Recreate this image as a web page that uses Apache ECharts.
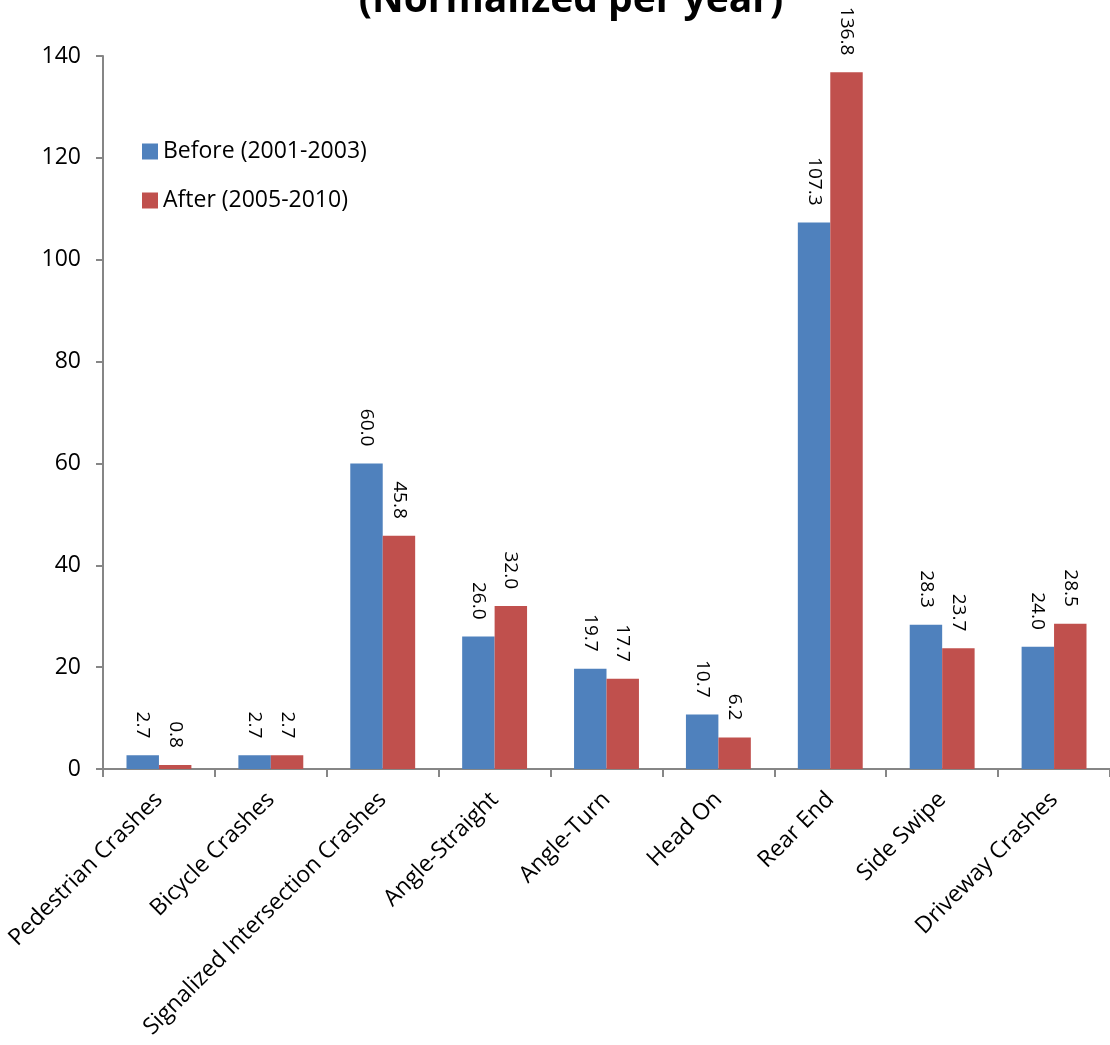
<!DOCTYPE html>
<html>
<head>
<meta charset="utf-8">
<title>Crashes (Normalized per year)</title>
<script src="https://cdn.jsdelivr.net/npm/echarts@6/dist/echarts.min.js"></script>
<style>
  html, body { margin: 0; padding: 0; background: #fff; }
  #eChart { width: 1110px; height: 1045px; }
</style>
</head>
<body>
<div id="eChart"></div>
<script>
// data
var categories = ['Pedestrian Crashes', 'Bicycle Crashes', 'Signalized Intersection Crashes',
    'Angle-Straight', 'Angle-Turn', 'Head On', 'Rear End', 'Side Swipe', 'Driveway Crashes'];
var beforeName = 'Before (2001-2003)';
var afterName = 'After (2005-2010)';
var beforeValues = [2.7, 2.7, 60.0, 26.0, 19.7, 10.7, 107.3, 28.3, 24.0];
var afterValues = [0.8, 2.7, 45.8, 32.0, 17.7, 6.2, 136.8, 23.7, 28.5];
var yTicks = [0, 20, 40, 60, 80, 100, 120, 140];

var FONT = 'Open Sans';

function valueLabel() {
    return {
        show: true,
        position: 'top',
        distance: 17,
        rotate: -90,
        align: 'right',
        verticalAlign: 'middle',
        fontFamily: FONT,
        fontSize: 19,
        color: '#000',
        formatter: function (p) { return p.value.toFixed(1); }
    };
}

var option = {
    animation: false,
    textStyle: { fontFamily: FONT },
    title: {
        text: '(Normalized per year)',
        left: 566,
        textAlign: 'center',
        top: -24,
        textStyle: { fontFamily: FONT, fontSize: 39, fontWeight: 'bold', color: '#000' }
    },
    legend: {
        orient: 'vertical',
        left: 142,
        top: 140,
        padding: 0,
        itemWidth: 16,
        itemHeight: 16,
        itemGap: 26,
        icon: 'rect',
        textStyle: { fontFamily: FONT, fontSize: 23, color: '#000' },
        data: [beforeName, afterName]
    },
    grid: {
        left: 103,
        right: -2,
        top: 56,
        bottom: 276,
        containLabel: false
    },
    xAxis: [
        {
            type: 'category',
            data: categories,
            axisLine: { lineStyle: { color: '#868686', width: 2 } },
            axisTick: { show: true, length: 8, lineStyle: { color: '#868686', width: 2 } },
            axisLabel: {
                rotate: 45,
                interval: 0,
                margin: 27,
                fontFamily: FONT,
                fontSize: 23,
                color: '#000'
            }
        }
    ],
    yAxis: [
        {
            type: 'value',
            min: yTicks[0],
            max: yTicks[yTicks.length - 1],
            interval: 20,
            axisLine: { show: true, lineStyle: { color: '#868686', width: 2 } },
            axisTick: { show: true, length: 7, lineStyle: { color: '#868686', width: 2 } },
            splitLine: { show: false },
            axisLabel: {
                margin: 22,
                fontFamily: FONT,
                fontSize: 23,
                color: '#000'
            }
        }
    ],
    series: [
        {
            name: beforeName,
            type: 'bar',
            barGap: '0%',
            barCategoryGap: '42%',
            itemStyle: { color: '#4F81BD' },
            label: valueLabel(),
            data: beforeValues
        },
        {
            name: afterName,
            type: 'bar',
            itemStyle: { color: '#C0504D' },
            label: valueLabel(),
            data: afterValues
        }
    ]
};

var _eChart = echarts.init(document.getElementById('eChart'));
_eChart.setOption(option);
</script>
</body>
</html>
